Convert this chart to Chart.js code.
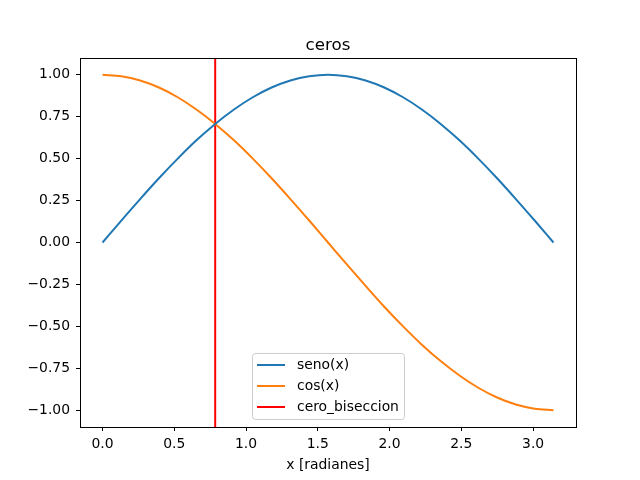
<!DOCTYPE html>
<html>
<head>
<meta charset="utf-8">
<script src="https://cdn.jsdelivr.net/npm/chart.js@4/dist/chart.umd.min.js"></script>
<style>
  html, body { margin: 0; padding: 0; background: #fff; }
  #wrap { width: 640px; height: 480px; }
</style>
</head>
<body>
<div id="wrap"><canvas id="grafico" width="640" height="480"></canvas></div>
<script>
// valores
const xVals = [0, 0.131, 0.262, 0.393, 0.524, 0.654, 0.785, 0.916, 1.047, 1.178, 1.309, 1.440, 1.571,
               1.702, 1.833, 1.963, 2.094, 2.225, 2.356, 2.487, 2.618, 2.749, 2.880, 3.011, 3.142];
const senoVals = [0, 0.131, 0.259, 0.383, 0.5, 0.609, 0.707, 0.793, 0.866, 0.924, 0.966, 0.991, 1.0,
                  0.991, 0.966, 0.924, 0.866, 0.793, 0.707, 0.609, 0.5, 0.383, 0.259, 0.131, 0];
const cosVals = [1, 0.991, 0.966, 0.924, 0.866, 0.793, 0.707, 0.609, 0.5, 0.383, 0.259, 0.131, 0,
                 -0.131, -0.259, -0.383, -0.5, -0.609, -0.707, -0.793, -0.866, -0.924, -0.966, -0.991, -1];
const ceroX = 0.785;
const xTicks = [0, 0.5, 1.0, 1.5, 2.0, 2.5, 3.0];
const yTicks = [-1.0, -0.75, -0.5, -0.25, 0, 0.25, 0.5, 0.75, 1.0];
const etiquetas = ["seno(x)", "cos(x)", "cero_biseccion"];
const colores = ["#1f77b4", "#ff7f0e", "#ff0000"];

const FONT = "DejaVu Sans";

// marco, titulo, etiqueta x y leyenda estilo matplotlib
const estiloMpl = {
    id: "estiloMpl",
    afterDraw(chart) {
        const c = chart.ctx;
        const a = chart.chartArea;
        c.save();
        c.strokeStyle = "#000";
        c.lineWidth = 1;
        c.strokeRect(Math.round(a.left) + 0.5, Math.round(a.top) + 0.5,
                     Math.round(a.right - a.left), Math.round(a.bottom - a.top));

        c.fillStyle = "#000";
        c.textAlign = "center";
        c.textBaseline = "alphabetic";
        c.font = "16.7px " + FONT;
        c.fillText("ceros", (a.left + a.right) / 2, 50);
        c.font = "13.9px " + FONT;
        c.fillText("x [radianes]", (a.left + a.right) / 2, 469);

        // leyenda
        const bx = 252.5, by = 353.5, bw = 152, bh = 66;
        c.fillStyle = "rgba(255,255,255,0.8)";
        c.strokeStyle = "#cccccc";
        c.beginPath();
        c.roundRect(bx, by, bw, bh, 3);
        c.fill();
        c.stroke();
        c.font = "13.9px " + FONT;
        c.textAlign = "left";
        c.textBaseline = "middle";
        chart.data.datasets.forEach((ds, i) => {
            const y = 365 + i * 21;
            c.strokeStyle = ds.borderColor;
            c.lineWidth = 2;
            c.beginPath();
            c.moveTo(257, y);
            c.lineTo(285, y);
            c.stroke();
            c.fillStyle = "#000";
            c.fillText(ds.label, 297, y);
        });
        c.restore();
    }
};

let ctx = document.getElementById("grafico").getContext("2d");

new Chart(ctx, {
    type: "line",
    data: {
        datasets: [
            {
                label: etiquetas[0],
                data: xVals.map((x, i) => ({ x: x, y: senoVals[i] })),
                borderColor: colores[0],
                borderWidth: 2,
                pointRadius: 0,
                cubicInterpolationMode: "monotone"
            },
            {
                label: etiquetas[1],
                data: xVals.map((x, i) => ({ x: x, y: cosVals[i] })),
                borderColor: colores[1],
                borderWidth: 2,
                pointRadius: 0,
                cubicInterpolationMode: "monotone"
            },
            {
                label: etiquetas[2],
                data: [{ x: ceroX, y: -1.1 }, { x: ceroX, y: 1.1 }],
                borderColor: colores[2],
                borderWidth: 2,
                pointRadius: 0
            }
        ]
    },
    options: {
        responsive: false,
        animation: false,
        layout: { padding: { top: 58, right: 64, left: 0, bottom: 0 } },
        plugins: {
            legend: { display: false },
            tooltip: { enabled: false }
        },
        scales: {
            x: {
                type: "linear",
                min: -0.157,
                max: 3.299,
                afterBuildTicks: s => { s.ticks = xTicks.map(v => ({ value: v })); },
                afterFit: s => { s.height = 53; },
                grid: { drawOnChartArea: false, drawTicks: true, tickLength: 4, color: "#000" },
                border: { display: false },
                ticks: {
                    color: "#000",
                    font: { family: FONT, size: 13.9 },
                    padding: 5,
                    maxRotation: 0,
                    callback: v => v.toFixed(1)
                }
            },
            y: {
                type: "linear",
                min: -1.1,
                max: 1.1,
                afterBuildTicks: s => { s.ticks = yTicks.map(v => ({ value: v })); },
                afterFit: s => { s.width = 80; },
                grid: { drawOnChartArea: false, drawTicks: true, tickLength: 4, color: "#000" },
                border: { display: false },
                ticks: {
                    color: "#000",
                    font: { family: FONT, size: 13.9 },
                    padding: 6,
                    callback: v => v.toFixed(2).replace("-", "\u2212")
                }
            }
        }
    },
    plugins: [estiloMpl]
});
</script>
</body>
</html>
